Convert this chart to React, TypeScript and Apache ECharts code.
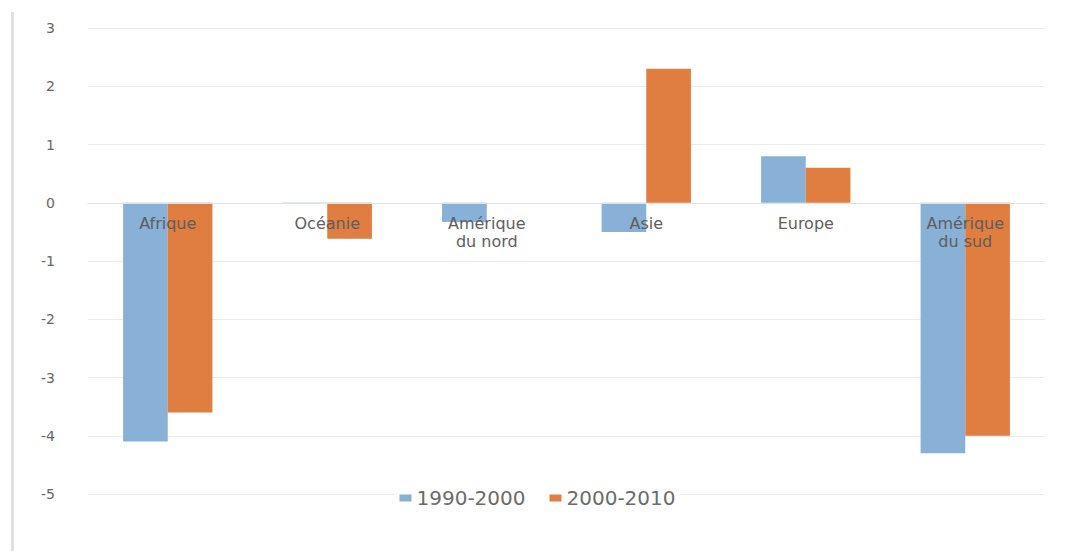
import React, { useEffect, useRef } from "react";
import * as echarts from "echarts";

const categories = ["Afrique", "Océanie", "Amérique\ndu nord", "Asie", "Europe", "Amérique\ndu sud"];
const series1990 = [-4.1, -0.02, -0.33, -0.5, 0.8, -4.3];
const series2000 = [-3.6, -0.62, 0, 2.3, 0.6, -4.0];
const seriesNames = ["1990-2000", "2000-2010"];

export default function App() {
  const ref = useRef<HTMLDivElement>(null);
  useEffect(() => {
    if (!ref.current) return;
    const chart = echarts.init(ref.current, undefined, { renderer: "svg" });
    const top = 28;
    const bottom = 57;
    const height = 551 - top - bottom;
    const zeroOffset = -(height * 5) / 8;
    chart.setOption({
      animation: false,
      backgroundColor: "#ffffff",
      textStyle: { fontFamily: "DejaVu Sans" },
      grid: { left: 88, right: 30, top, bottom, containLabel: false },
      graphic: [
        { type: "rect", shape: { x: 11, y: 12, width: 3, height: 539 }, style: { fill: "#e2e2e2" }, silent: true },
      ],
      legend: {
        data: seriesNames,
        left: "center",
        top: 483,
        itemWidth: 12,
        itemHeight: 7,
        itemGap: 24,
        icon: "rect",
        backgroundColor: "#ffffff",
        textStyle: { fontSize: 20, color: "#6b6b6b", fontFamily: "DejaVu Sans" },
      },
      xAxis: {
        type: "category",
        data: categories,
        z: 10,
        position: "bottom",
        offset: zeroOffset,
        axisLine: { onZero: false, lineStyle: { color: "#e2e2e2", width: 1 } },
        axisTick: { show: false },
        axisLabel: { color: "#5e5e5e", fontSize: 16, margin: 12, lineHeight: 18, interval: 0 },
        splitLine: { show: false },
      },
      yAxis: {
        type: "value",
        min: -5,
        max: 3,
        interval: 1,
        axisLine: { show: false },
        axisTick: { show: false },
        axisLabel: { color: "#666666", fontSize: 14, margin: 33, align: "right" },
        splitLine: { lineStyle: { color: "#ececec", width: 1 } },
      },
      series: [
        {
          name: seriesNames[0],
          type: "bar",
          data: series1990,
          itemStyle: { color: "#89b0d6" },
          barGap: "0%",
          barCategoryGap: "44%",
        },
        {
          name: seriesNames[1],
          type: "bar",
          data: series2000,
          itemStyle: { color: "#e07d40" },
          barGap: "0%",
          barCategoryGap: "44%",
        },
      ],
    });
    return () => chart.dispose();
  }, []);
  return <div ref={ref} style={{ position: "fixed", left: 0, top: 0, width: 1075, height: 551 }} />;
}
